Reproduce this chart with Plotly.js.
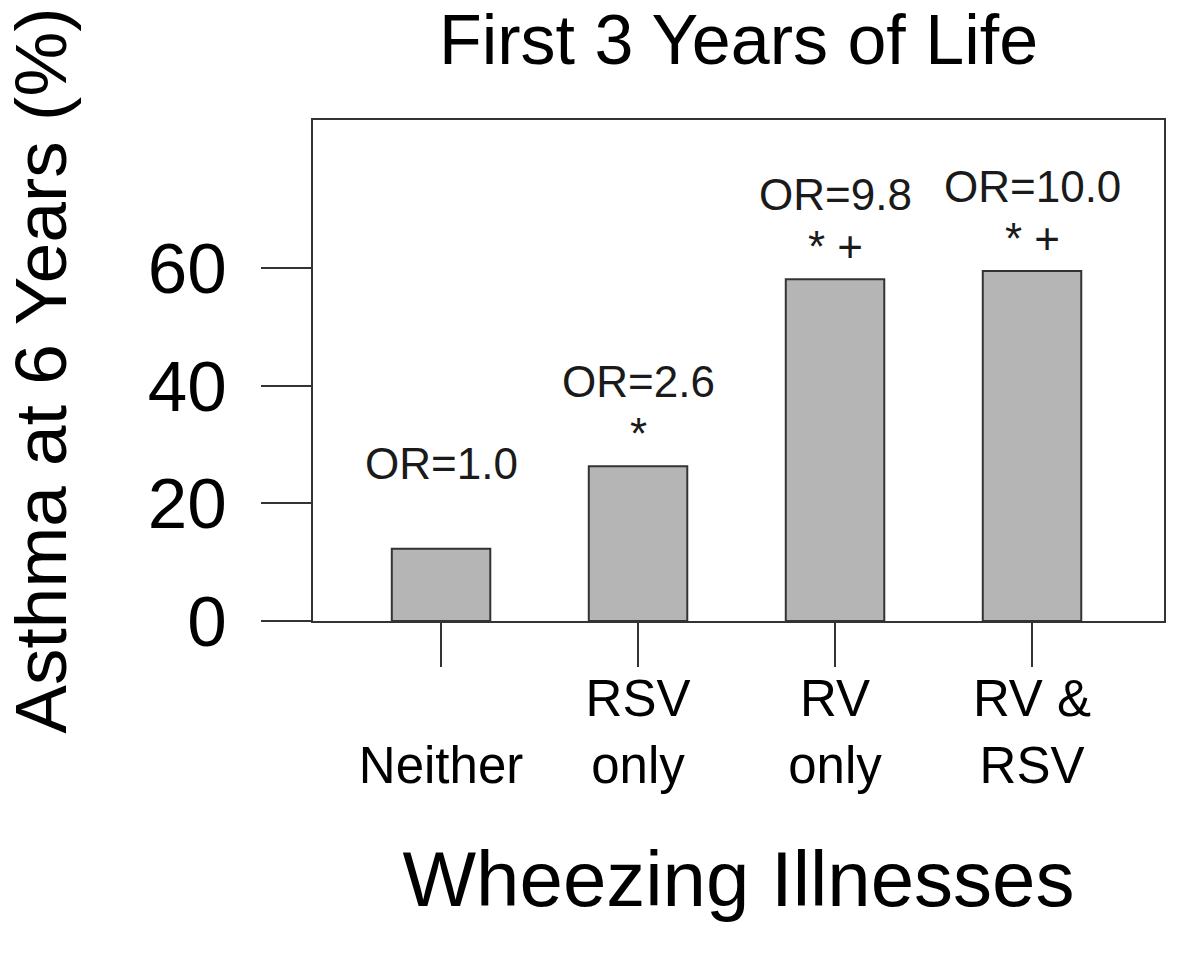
<!DOCTYPE html>
<html>
<head>
<meta charset="utf-8">
<script src="https://cdn.plot.ly/plotly-3.0.1.min.js"></script>
<style>html,body{margin:0;padding:0;background:#fff;}#chart{width:1200px;height:970px;}</style>
</head>
<body>
<div id="chart"></div>
<script>
// ---- data ----
const categories = [0, 1, 2, 3];
const tickLabels = ["<br>Neither", "RSV<br>only", "RV<br>only", "RV &<br>RSV"];
const asthmaPct = [12.3, 26.3, 58.1, 59.5];
const orLabels = ["OR=1.0", "OR=2.6", "OR=9.8", "OR=10.0"];
const sigLabels = ["", "*", "* +", "* +"];
const yTicks = [0, 20, 40, 60];

const FONT = "Liberation Sans, Arial, Helvetica, sans-serif";

const trace = {
  type: "bar",
  x: categories,
  y: asthmaPct,
  width: 0.5,
  marker: { color: "#b5b5b5", line: { color: "#333333", width: 2 } },
  hoverinfo: "skip",
  showlegend: false
};

const annotations = [];
categories.forEach((c, i) => {
  annotations.push({
    x: c, y: asthmaPct[i], xref: "x", yref: "y",
    text: orLabels[i], showarrow: false,
    yanchor: "middle", yshift: 85,
    font: { family: FONT, size: 44, color: "#1a1a1a" }
  });
  if (sigLabels[i]) {
    annotations.push({
      x: c, y: asthmaPct[i], xref: "x", yref: "y",
      text: sigLabels[i], showarrow: false,
      yanchor: "middle", yshift: 33,
      font: { family: FONT, size: 44, color: "#1a1a1a" }
    });
  }
});

const layout = {
  width: 1200, height: 970,
  margin: { l: 313, r: 36, t: 120, b: 349, autoexpand: false },
  paper_bgcolor: "#ffffff", plot_bgcolor: "#ffffff",
  font: { family: FONT, color: "#000000" },
  title: {
    text: "First 3 Years of Life",
    font: { family: FONT, size: 70, color: "#000000" },
    x: 0.5, xref: "paper", xanchor: "center",
    y: 0.985, yref: "container", yanchor: "top"
  },
  xaxis: {
    range: [-0.65, 3.67],
    tickmode: "array", tickvals: categories, ticktext: tickLabels,
    ticks: "outside", ticklen: 44, tickwidth: 2, tickcolor: "#333333",
    ticklabelstandoff: -12,
    tickfont: { family: FONT, size: 51, color: "#000000" },
    showline: true, linecolor: "#333333", linewidth: 2, mirror: true,
    showgrid: false, zeroline: false, fixedrange: true,
    automargin: false,
    title: { text: "Wheezing Illnesses", font: { family: FONT, size: 78, color: "#000000" }, standoff: 59 }
  },
  yaxis: {
    range: [0, 85.2],
    tickmode: "array", tickvals: yTicks, ticktext: yTicks.map(String),
    ticks: "outside", ticklen: 50, tickwidth: 2, tickcolor: "#333333",
    ticklabelstandoff: 20,
    tickfont: { family: FONT, size: 71, color: "#000000" },
    showline: true, linecolor: "#333333", linewidth: 2, mirror: true,
    showgrid: false, zeroline: false, fixedrange: true,
    automargin: false,
    title: { text: "Asthma at 6 Years (%)", font: { family: FONT, size: 73, color: "#000000" }, standoff: 71 }
  },
  annotations: annotations
};

Plotly.newPlot("chart", [trace], layout, { displayModeBar: false, staticPlot: true });
</script>
</body>
</html>
